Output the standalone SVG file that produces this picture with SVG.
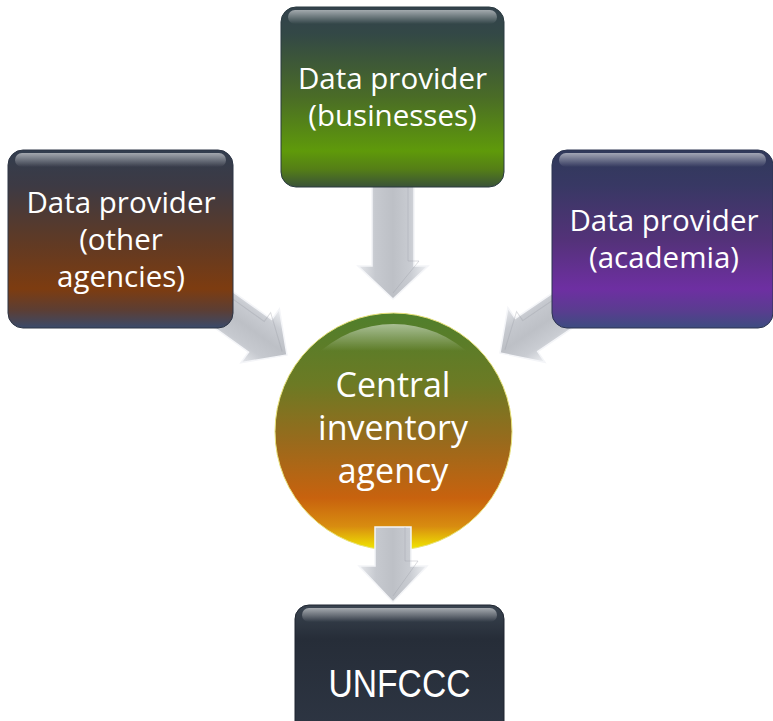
<svg xmlns="http://www.w3.org/2000/svg" width="773" height="721" viewBox="0 0 773 721">
<defs>
<style>
.t{font-family:"Open Sans","Noto Sans","DejaVu Sans",sans-serif;fill:#fff;text-anchor:middle;font-size:29.5px}
.tc{font-family:"Open Sans","Noto Sans","DejaVu Sans",sans-serif;fill:#fff;text-anchor:middle;font-size:34px}
.tu{font-family:"Liberation Sans",Arial,sans-serif;fill:#fff;text-anchor:middle;font-size:38px}
.arrow{fill:url(#gArrow);stroke:#f4f5f8;stroke-width:1.5;stroke-linejoin:miter}
.bevel{fill:none;stroke:#9a9da5;stroke-width:1;opacity:0.35}
.gloss{fill:url(#gGloss)}
</style>
<linearGradient id="gTop" x1="0" y1="0" x2="0" y2="1">
<stop offset="0" stop-color="#33424c"/>
<stop offset="0.15" stop-color="#334846"/>
<stop offset="0.5" stop-color="#4a6c26"/>
<stop offset="0.8" stop-color="#5f9a0a"/>
<stop offset="0.9" stop-color="#557f16"/>
<stop offset="1" stop-color="#3a5238"/>
</linearGradient>
<linearGradient id="gLeft" x1="0" y1="0" x2="0" y2="1">
<stop offset="0" stop-color="#323d4e"/>
<stop offset="0.2" stop-color="#3d3a44"/>
<stop offset="0.5" stop-color="#5e3a26"/>
<stop offset="0.78" stop-color="#7d3c10"/>
<stop offset="0.9" stop-color="#5c3e34"/>
<stop offset="1" stop-color="#3a4a6a"/>
</linearGradient>
<linearGradient id="gRight" x1="0" y1="0" x2="0" y2="1">
<stop offset="0" stop-color="#30395a"/>
<stop offset="0.2" stop-color="#383864"/>
<stop offset="0.5" stop-color="#533278"/>
<stop offset="0.78" stop-color="#6e2fa2"/>
<stop offset="0.9" stop-color="#5a3c90"/>
<stop offset="1" stop-color="#3d4c80"/>
</linearGradient>
<linearGradient id="gBottom" x1="0" y1="0" x2="0" y2="1">
<stop offset="0" stop-color="#3a4450"/>
<stop offset="0.25" stop-color="#262d38"/>
<stop offset="1" stop-color="#2e3644"/>
</linearGradient>
<linearGradient id="gCircle" x1="0" y1="0" x2="0" y2="1">
<stop offset="0" stop-color="#4f7f2c"/>
<stop offset="0.3" stop-color="#6c7a24"/>
<stop offset="0.55" stop-color="#9a6a1c"/>
<stop offset="0.78" stop-color="#c8620e"/>
<stop offset="0.9" stop-color="#d88c10"/>
<stop offset="1" stop-color="#f2ea00"/>
</linearGradient>
<linearGradient id="gGloss" x1="0" y1="0" x2="0" y2="1">
<stop offset="0" stop-color="#ffffff" stop-opacity="0.55"/>
<stop offset="1" stop-color="#ffffff" stop-opacity="0"/>
</linearGradient>
<linearGradient id="gArrow" x1="0" y1="0" x2="0" y2="1">
<stop offset="0" stop-color="#eef0f3"/>
<stop offset="0.25" stop-color="#c9ccd2"/>
<stop offset="0.5" stop-color="#bdc0c6"/>
<stop offset="0.75" stop-color="#c6c9cf"/>
<stop offset="1" stop-color="#e6e8ec"/>
</linearGradient>
<linearGradient id="gRim" x1="0" y1="0" x2="0" y2="1">
<stop offset="0" stop-color="#ffffff" stop-opacity="0.5"/>
<stop offset="0.12" stop-color="#ffffff" stop-opacity="0"/>
<stop offset="1" stop-color="#ffffff" stop-opacity="0"/>
</linearGradient>
</defs>
<rect width="773" height="721" fill="#ffffff"/>

<g id="connectors">
<g id="arrow-top" transform="translate(393,299) rotate(90)">
<polygon class="arrow" points="-115,-21 -33,-21 -33,-35 0,0 -33,35 -33,21 -115,21"/>
<polyline class="bevel" points="-115,-15 -38,-15 -38,-26 -6,0"/>
</g>
<g id="arrow-left" transform="translate(287,355) rotate(35.6)">
<polygon class="arrow" points="-112,-20 -33,-20 -33,-33 0,0 -33,33 -33,20 -112,20"/>
<polyline class="bevel" points="-112,-14 -38,-14 -38,-25 -6,0"/>
</g>
<g id="arrow-right" transform="translate(500,353) rotate(145.8)">
<polygon class="arrow" points="-112,-20 -32,-20 -32,-33 0,0 -32,33 -32,20 -112,20"/>
<polyline class="bevel" points="-112,14 -37,14 -37,25 -6,0"/>
</g>
</g>

<g id="node-businesses">
<rect x="281" y="7" width="223" height="180" rx="15" fill="url(#gTop)" stroke="#2a3a40" stroke-width="1"/>
<rect x="288" y="10" width="209" height="14" rx="7" class="gloss"/>
<text class="t" x="392.5" y="89">Data provider</text>
<text class="t" x="392.5" y="126">(businesses)</text>
</g>

<g id="node-other-agencies">
<rect x="8" y="150" width="225" height="178" rx="15" fill="url(#gLeft)" stroke="#2c3444" stroke-width="1"/>
<rect x="15" y="153" width="211" height="14" rx="7" class="gloss"/>
<text class="t" x="121" y="213">Data provider</text>
<text class="t" x="121" y="250">(other</text>
<text class="t" x="121" y="287">agencies)</text>
</g>

<g id="node-academia">
<rect x="552" y="150" width="221" height="178" rx="15" fill="url(#gRight)" stroke="#2c3450" stroke-width="1"/>
<rect x="559" y="153" width="207" height="14" rx="7" class="gloss"/>
<text class="t" x="664" y="231">Data provider</text>
<text class="t" x="664" y="268">(academia)</text>
</g>

<g id="node-central">
<circle cx="393.5" cy="431.5" r="118.5" fill="url(#gCircle)" stroke="#e8e27a" stroke-width="1"/>
<circle cx="393.5" cy="436" r="112" fill="url(#gRim)"/>
<text class="tc" x="393" y="397">Central</text>
<text class="tc" x="393" y="440">inventory</text>
<text class="tc" x="393" y="483">agency</text>
</g>

<g id="arrow-bottom" transform="translate(393,602) rotate(90)">
<polygon class="arrow" points="-75,-18 -36,-18 -36,-34 0,0 -36,34 -36,18 -75,18"/>
<polyline class="bevel" points="-75,-12 -41,-12 -41,-25 -6,0"/>
</g>

<g id="node-unfccc">
<rect x="295" y="605" width="209" height="135" rx="14" fill="url(#gBottom)" stroke="#1e2530" stroke-width="1"/>
<rect x="302" y="608" width="195" height="14" rx="7" class="gloss"/>
<text class="tu" x="399.5" y="697" textLength="142" lengthAdjust="spacingAndGlyphs">UNFCCC</text>
</g>
</svg>
